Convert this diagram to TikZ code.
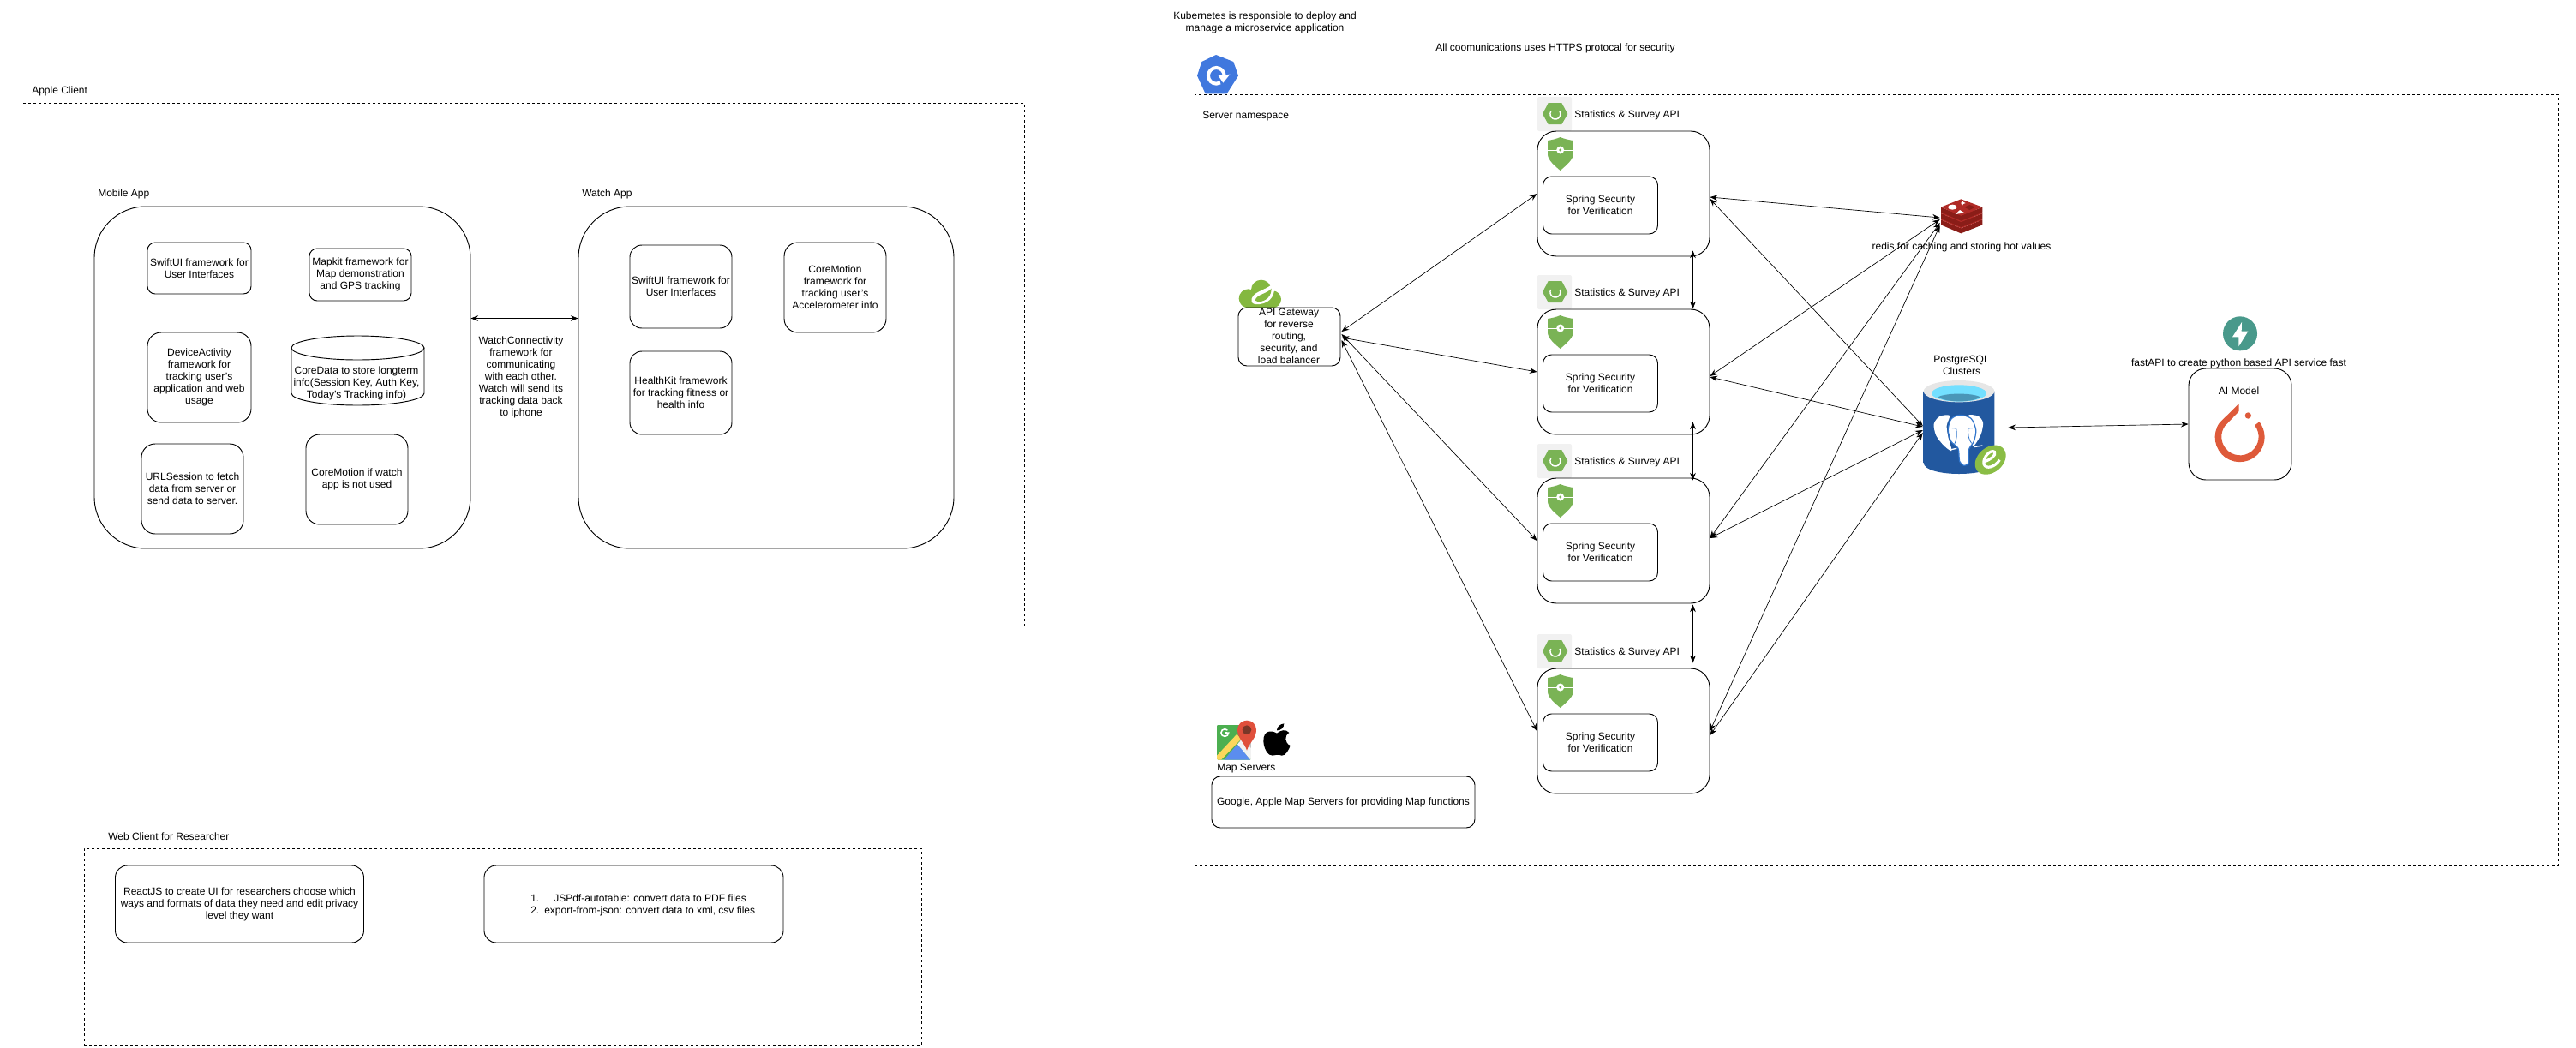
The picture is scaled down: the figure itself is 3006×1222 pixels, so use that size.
\documentclass[tikz,border=0pt]{standalone}
\usepackage{fontspec}
\setmainfont{Liberation Sans}
\usepackage{xcolor}
\usepackage{tikz}
\usetikzlibrary{positioning, shapes, calc, arrows.meta}
\definecolor{k8sblue}{HTML}{4078DE}
\definecolor{iconbg}{HTML}{F1F1F1}
\definecolor{springgreen}{HTML}{7AB355}
\definecolor{cloudgreen}{HTML}{84B83F}
\definecolor{redisred}{HTML}{B02A26}
\definecolor{redisdark}{HTML}{8A1D18}
\definecolor{pgdark}{HTML}{22589F}
\definecolor{pgmid}{HTML}{3075CC}
\definecolor{pggray}{HTML}{E6E6E6}
\definecolor{pgcyan}{HTML}{73DFFF}
\definecolor{pgwater}{HTML}{4A96B8}
\definecolor{badgegreen}{HTML}{8ABD45}
\definecolor{fastteal}{HTML}{49998B}
\definecolor{torchred}{HTML}{DE5A3A}
\definecolor{mapgreen}{HTML}{4CAF50}
\definecolor{mapblue}{HTML}{5B8DEF}
\definecolor{mapyellow}{HTML}{FBD75B}
\definecolor{mapgray}{HTML}{C4C4C4}
\definecolor{mapred}{HTML}{E0503C}
\definecolor{mapdark}{HTML}{7B3728}
\tikzset{
  txt/.style={inner sep=0pt, align=center, font=\fontsize{9}{10.5}\selectfont},
  sized/.style n args={3}{minimum width=#1*0.75pt, minimum height=#2*0.75pt, rounded corners=#3*0.75pt},
  rbox/.style={txt, draw, line width=0.7pt},
  dashbox/.style={draw, line width=0.55pt, dash pattern=on 2.25pt off 2.25pt, inner sep=0pt},
  link/.style={<->, line width=0.5pt, >={Stealth[length=6.5pt,width=5pt]}}
}
\newcommand{\apibox}[2]{%
  \fill[iconbg,rounded corners=1.5pt] (1794,#2-40) rectangle (1834,#2);
  \fill[springgreen] (1800,#2-20) -- (1806.7,#2-33) -- (1822.3,#2-33) -- (1829.3,#2-20) -- (1822.3,#2-8) -- (1806.7,#2-8) -- cycle;
  \draw[white,line width=1.1pt] (1814.7,#2-26.5) -- (1814.7,#2-20);
  \draw[white,line width=1.1pt] (1809.7,#2-23) arc[start angle=-150,end angle=-390,radius=6];
  \node[txt,anchor=west] (#1lbl) at (1837,#2-19) {Statistics \& Survey API};
  \node[rbox,sized={201}{146}{22}] (#1) at (1894.5,#2+73) {};
  \fill[springgreen] (1806,#2+11) .. controls (1812,#2+10) and (1816,#2+9) .. (1820.7,#2+7) .. controls (1825,#2+9) and (1830,#2+10) .. (1835.7,#2+11) -- (1835.7,#2+27) .. controls (1835.7,#2+34) and (1826,#2+41) .. (1820.7,#2+46) .. controls (1815,#2+41) and (1806,#2+34) .. (1806,#2+27) -- cycle;
  \draw[white,line width=0.6pt] (1806,#2+22) -- (1835.7,#2+22);
  \fill[white] (1820.7,#2+22) circle (4.5);
  \fill[springgreen] (1820.7,#2+22) circle (1.6);
  \node[rbox,sized={134}{67}{10}] (#1sec) at (1867.5,#2+86.5) {Spring Security\\for Verification};
}

\begin{document}
\begin{tikzpicture}[x=0.75pt,y=-0.75pt]
\useasboundingbox (0,0) rectangle (3006,1222);

\node[dashbox,minimum width=1171*0.75pt,minimum height=610*0.75pt] (applebox) at (609.5,425) {};
\node[txt,anchor=west] (applelbl) at (37,106) {Apple Client};
\node[txt,anchor=west] (mobilelbl) at (114,226) {Mobile App};
\node[txt,anchor=west] (watchlbl) at (679,226) {Watch App};
\node[rbox,sized={439}{399}{60}] (mobilebox) at (329.5,440.5) {};
\node[rbox,sized={438}{399}{60}] (watchbox) at (894,440.5) {};

\node[rbox,sized={121}{60}{9}] (swiftm) at (232.5,313) {SwiftUI framework for\\User Interfaces};
\node[rbox,sized={119}{61}{9}] (mapkit) at (420.5,320.5) {Mapkit framework for\\Map demonstration\\and GPS tracking};
\node[rbox,sized={121}{105}{16}] (devact) at (232.5,440.5) {DeviceActivity\\framework for\\tracking user's\\application and web\\usage};
\draw[line width=0.7pt] (417.5,406) ellipse [x radius=77.5,y radius=14];
\draw[line width=0.7pt] (340,406) -- (340,459) arc[start angle=180,end angle=0,x radius=77.5,y radius=14] -- (495,406);
\node[txt] (coredata) at (416,447) {CoreData to store longterm\\info(Session Key, Auth Key,\\Today's Tracking info)};
\node[rbox,sized={119}{105}{16}] (urlsess) at (224.5,570.5) {URLSession to fetch\\data from server or\\send data to server.};
\node[rbox,sized={119}{105}{16}] (motionm) at (416.5,559.5) {CoreMotion if watch\\app is not used};

\node[rbox,sized={119}{97}{14}] (swiftw) at (794.5,334.5) {SwiftUI framework for\\User Interfaces};
\node[rbox,sized={119}{105}{16}] (motionw) at (974.5,335.5) {CoreMotion\\framework for\\tracking user's\\Accelerometer info};
\node[rbox,sized={119}{97}{14}] (health) at (794.5,458.5) {HealthKit framework\\for tracking fitness or\\health info};
\node[txt] (watchconn) at (608,440) {WatchConnectivity\\framework for\\communicating\\with each other.\\Watch will send its\\tracking data back\\to iphone};

\node[dashbox,minimum width=977*0.75pt,minimum height=230*0.75pt] (webbox) at (586.5,1105) {};
\node[txt,anchor=west] (weblbl) at (126,976) {Web Client for Researcher};
\node[rbox,sized={290}{90}{14}] (react) at (279.5,1055) {ReactJS to create UI for researchers choose which\\ways and formats of data they need and edit privacy\\level they want};
\node[rbox,sized={349}{90}{14}] (export) at (739.5,1055) {};
\node[txt,anchor=west,align=left] (exporttxt) at (619,1056) {1.\hspace{12.75pt}JSPdf-autotable: convert data to PDF files\\2.\hspace{4.5pt}export-from-json: convert data to xml, csv files};

\node[dashbox,minimum width=1591*0.75pt,minimum height=900*0.75pt] (serverbox) at (2189.5,560) {};
\node[txt] (k8stxt) at (1476,26) {Kubernetes is responsible to deploy and\\manage a microservice application};
\node[txt] (httpstxt) at (1815,56) {All coomunications uses HTTPS protocal for security};
\node[txt,anchor=west] (serverlbl) at (1403,136) {Server namespace};

\begin{scope}[shift={(1390,60)},x=0.25pt,y=-0.25pt]
\fill[k8sblue] (87,12) -- (148,36) -- (165,85) -- (125,148) -- (50,148) -- (21,85) -- (37,36) -- cycle;
\draw[white,line width=3pt] (116,85) arc[start angle=0,end angle=-300,radius=28];
\fill[white] (95,85) -- (136,80) -- (112,110) -- cycle;
\end{scope}

\begin{scope}[shift={(1440,320)},x=0.25pt,y=-0.25pt]
\fill[cloudgreen] (50,85) circle (33);
\fill[cloudgreen] (95,55) circle (35);
\fill[cloudgreen] (135,88) circle (30);
\fill[cloudgreen] (50,80) rectangle (135,118);
\fill[white] (62,98) .. controls (55,60) and (110,60) .. (140,30) .. controls (147,70) and (130,100) .. (90,105) .. controls (80,107) and (68,106) .. (62,98) -- cycle;
\fill[cloudgreen] (74,92) .. controls (78,70) and (115,70) .. (131,50) .. controls (131,75) and (115,95) .. (85,97) -- cycle;
\end{scope}
\node[rbox,fill=white,sized={119}{68}{10}] (apigw) at (1504.5,393) {};
\node[txt] (apigwtxt) at (1504,392) {API Gateway\\for reverse\\routing,\\security, and\\load balancer};

\apibox{apione}{153}
\apibox{apitwo}{361}
\apibox{apithree}{558}
\apibox{apifour}{780}

\begin{scope}[shift={(1415,835)},x=0.25pt,y=-0.25pt]
\begin{scope}
\clip[rounded corners=1pt] (15,32) rectangle (135,155);
\fill[mapgreen] (15,32) rectangle (135,155);
\fill[mapgray] (95,32) rectangle (135,115);
\fill[mapblue] (40,155) -- (87,100) -- (133,155) -- cycle;
\fill[white!90!gray] (87,100) -- (105,80) -- (135,115) -- (135,155) -- (133,155) -- cycle;
\fill[mapyellow] (15,140) -- (85,65) -- (100,82) -- (30,155) -- (15,155) -- cycle;
\end{scope}
\draw[white,line width=1.2pt] (52,51) arc[start angle=-45,end angle=-360,radius=13] -- (44,60);
\fill[mapred] (87,50) arc[start angle=180,end angle=360,radius=33] .. controls (153,80) and (128,95) .. (120,122) .. controls (112,95) and (87,80) .. (87,50) -- cycle;
\fill[mapdark] (120,50) circle (16);
\fill[black] (225,62) .. controls (205,50) and (178,52) .. (178,88) .. controls (178,115) and (195,142) .. (210,140) .. controls (218,139) and (230,134) .. (242,140) .. controls (255,142) and (268,118) .. (272,105) .. controls (252,97) and (250,70) .. (268,60) .. controls (255,45) and (238,52) .. (225,62) -- cycle;
\fill[black] (225,52) .. controls (225,40) and (235,30) .. (250,28) .. controls (250,42) and (240,52) .. (225,52) -- cycle;
\end{scope}
\node[txt,anchor=west] (maplbl) at (1420,897) {Map Servers};
\node[rbox,sized={307}{60}{10}] (mapbox) at (1567.5,936) {Google, Apple Map Servers for providing Map functions};

\begin{scope}[shift={(2255,225)},x=0.25pt,y=-0.25pt]
\foreach \dy in {44,22,0} {
\fill[redisdark] (30,50+\dy) -- (100,80+\dy) -- (175,50+\dy) -- (175,68+\dy) -- (100,98+\dy) -- (30,68+\dy) -- cycle;
\fill[redisred] (30,50+\dy) -- (100,22+\dy) -- (175,50+\dy) -- (100,80+\dy) -- cycle;
}
\fill[white] (70,50) ellipse [x radius=16,y radius=9];
\fill[white] (100,35) -- (104,32) -- (106,28) -- (108,32) -- (116,36) -- (108,39) -- (105,44) -- (101,39) -- cycle;
\fill[white] (80,75) -- (112,70) -- (96,60) -- cycle;
\fill[redisdark] (112,50) -- (130,42) -- (150,50) -- (130,60) -- cycle;
\end{scope}
\node[inner sep=0pt,minimum width=50*0.75pt,minimum height=42*0.75pt] (redis) at (2289,253) {};
\node[txt] (redislbl) at (2289,288) {redis for caching and storing hot values};

\node[txt] (pglbl) at (2289,426) {PostgreSQL\\Clusters};
\begin{scope}[shift={(2240,440)},x=0.25pt,y=-0.25pt]
\shade[left color=pgdark,middle color=pgmid,right color=pgdark] (14,50) -- (14,300) .. controls (14,352) and (262,352) .. (262,300) -- (262,50) -- cycle;
\fill[pggray] (138,50) ellipse [x radius=124,y radius=38];
\fill[pgcyan] (138,57) ellipse [x radius=96,y radius=29];
\fill[pgwater] (65,70) .. controls (90,55) and (186,55) .. (212,70) .. controls (190,90) and (90,90) .. (65,70) -- cycle;
\fill[white] plot[smooth cycle] coordinates {(105,135) (70,138) (50,165) (58,205) (85,240) (112,258) (100,210) (95,170)};
\fill[white] plot[smooth cycle] coordinates {(170,135) (205,137) (222,160) (215,200) (195,235) (185,240) (190,180)};
\draw[pgmid,line width=0.9pt,fill=white] plot[smooth cycle] coordinates {(140,133) (180,145) (197,185) (190,225) (172,255) (172,300) (155,310) (140,295) (135,250) (110,225) (100,185) (110,148)};
\draw[pgmid,line width=0.6pt] (105,178) -- (128,180) .. controls (132,200) and (130,220) .. (122,235);
\draw[pgmid,line width=0.6pt] (195,178) -- (170,180) .. controls (168,200) and (172,220) .. (182,232);
\draw[white,line width=1pt] (105,255) -- (130,250);
\draw[white,line width=1pt] (190,245) -- (220,240);
\fill[badgegreen,rotate around={40:(248,290)}] (248,290) ellipse [x radius=60,y radius=44];
\draw[white,line width=2.4pt] (228,296) .. controls (245,290) and (270,275) .. (262,262) .. controls (250,252) and (220,280) .. (225,305) .. controls (232,325) and (265,315) .. (280,290);
\end{scope}
\node[inner sep=0pt,minimum width=95*0.75pt,minimum height=110*0.75pt] (postgres) at (2292.5,499) {};

\node[rbox,sized={120}{130}{20}] (aibox) at (2614,495) {};
\node[txt] (ailbl) at (2612.5,456) {AI Model};
\node[txt] (fastlbl) at (2612.5,424) {fastAPI to create python based API service fast};
\begin{scope}[shift={(2575,365)},x=0.25pt,y=-0.25pt]
\fill[fastteal] (117,73) circle (60);
\fill[white] (123,33) -- (90,85) -- (112,85) -- (112,118) -- (145,65) -- (122,65) -- cycle;
\fill[torchred] (113,318) -- (45,385) arc[start angle=215.5,end angle=-38,radius=87] -- (168,394) arc[start angle=-38,end angle=215.5,radius=65] -- (113,345) -- cycle;
\fill[torchred] (145,360) circle (11);
\end{scope}

\draw[link] ($(mobilebox.east)+(0,-69)$) -- ($(watchbox.west)+(0,-69)$);
\draw[link] ($(apigw.east)+(1,-6)$) -- (apione.west);
\draw[link] ($(apigw.east)+(1,1)$) -- (apitwo.west);
\draw[link] ($(apigw.east)+(1,-3)$) -- (apithree.west);
\draw[link] ($(apigw.east)+(1,4)$) -- (apifour.west);

\draw[link] ($(apione.south east)+(-20,-7)$) -- ($(apitwo.north east)+(-20,0)$);
\draw[link] ($(apitwo.south east)+(-20,-15)$) -- ($(apithree.north east)+(-20,3)$);
\draw[link] ($(apithree.south east)+(-20,1)$) -- ($(apifour.north east)+(-20,-6)$);

\draw[link] ($(apione.east)+(0,4)$) -- ($(redis.west)+(0,1)$);
\draw[link] ($(apitwo.east)+(0,5)$) -- ($(redis.west)+(0,3)$);
\draw[link] ($(apithree.east)+(0,-3)$) -- ($(redis.west)+(0,7)$);
\draw[link] (apifour.east) -- ($(redis.west)+(0,10)$);
\draw[link] ($(apione.east)+(0,6)$) -- ($(postgres.west)+(-1,-2)$);
\draw[link] ($(apitwo.east)+(0,6)$) -- ($(postgres.west)+(-1,-1)$);
\draw[link] ($(apithree.east)+(0,-3)$) -- ($(postgres.west)+(-1,3)$);
\draw[link] ($(apifour.east)+(0,5)$) -- ($(postgres.west)+(-1,6)$);
\draw[link] ($(postgres.east)+(3,0)$) -- (aibox.west);

\end{tikzpicture}
\end{document}
